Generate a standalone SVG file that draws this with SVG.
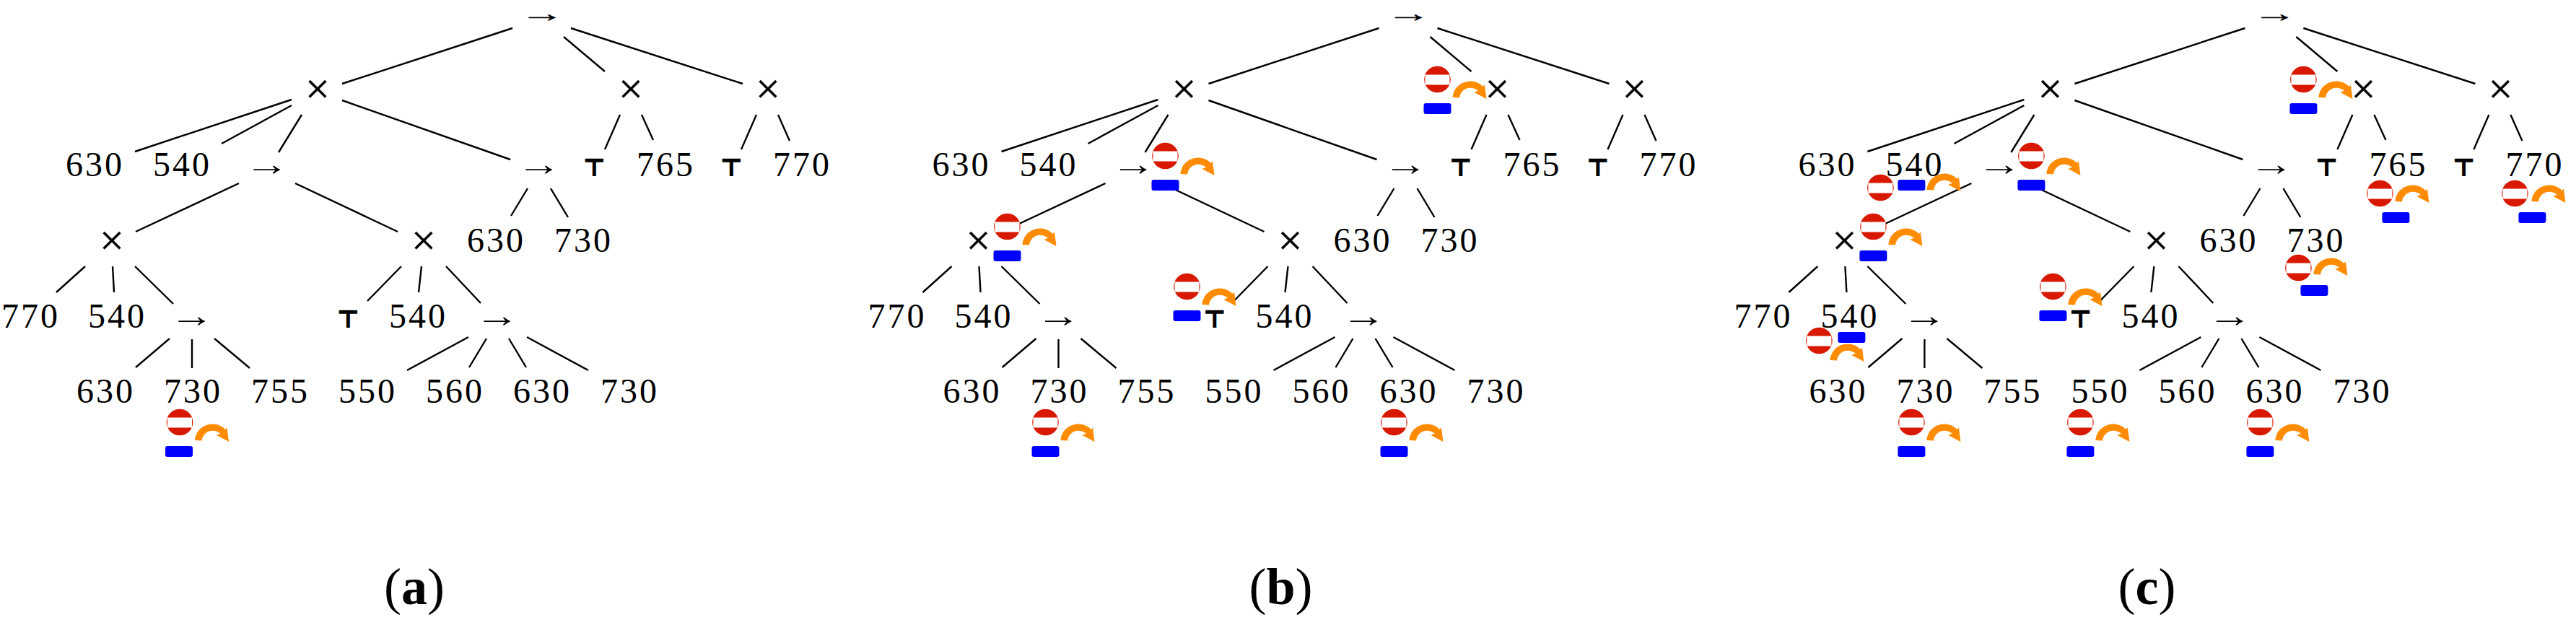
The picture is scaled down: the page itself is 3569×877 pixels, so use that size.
<svg xmlns="http://www.w3.org/2000/svg" width="3569" height="877" viewBox="0 0 3569 877">
<style>
text{fill:#000;text-anchor:middle;font-family:"Liberation Serif",serif}
.n{font-size:48px;letter-spacing:3px;transform:translateX(1.5px)}
.x{font-size:60px;stroke:#000;stroke-width:0.6}
.a{font-size:46px}
.r{font-size:34px;stroke:#000;stroke-width:0.3}
.t{font-size:32px;font-weight:bold;font-family:"DejaVu Sans",sans-serif;stroke:#000;stroke-width:1.5}
.c{font-size:72px}
.c tspan{font-weight:bold}
line{stroke:#000;stroke-width:2.4}
</style>
<defs>
<g id="no"><circle r="18.3" fill="#d81900"/><rect x="-17" y="-6.5" width="34" height="14" fill="#fff"/></g>
<path id="turn" fill="#ff8c00" d="M21 25C22 12 32 3 45 2.500C52 2.500 59 5 63 10L65.500 7.500L68 27L51 18L56.500 15.500C53 13 49 11.500 45 11.700C37 12 31.500 18 30.500 25.500Z"/>
<rect id="bar" x="-19" y="33" width="38" height="15" rx="3" fill="#0000ff"/>
</defs>
<g id="panel-a">
<g id="a-connectors">
<line x1="710" y1="39" x2="474" y2="116"/><line x1="781" y1="51" x2="838" y2="99"/><line x1="791" y1="39" x2="1029" y2="116"/><line x1="404" y1="138" x2="187" y2="210"/><line x1="404" y1="146" x2="307" y2="199"/><line x1="418" y1="159" x2="386" y2="211"/><line x1="474" y1="139" x2="707" y2="221"/><line x1="331" y1="254" x2="188" y2="321"/><line x1="409" y1="254" x2="551" y2="321"/><line x1="731" y1="261" x2="708" y2="299"/><line x1="763" y1="261" x2="787" y2="301"/><line x1="859" y1="159" x2="838" y2="207"/><line x1="889" y1="159" x2="905" y2="194"/><line x1="1048" y1="159" x2="1027" y2="207"/><line x1="1078" y1="159" x2="1094" y2="195"/><line x1="118" y1="369" x2="78" y2="405"/><line x1="156" y1="369" x2="158" y2="405"/><line x1="187" y1="369" x2="240" y2="421"/><line x1="556" y1="369" x2="509" y2="417"/><line x1="584" y1="369" x2="580" y2="405"/><line x1="618" y1="369" x2="666" y2="420"/><line x1="235" y1="469" x2="188" y2="509"/><line x1="266" y1="470" x2="266" y2="510"/><line x1="297" y1="469" x2="346" y2="510"/><line x1="649" y1="467" x2="564" y2="513"/><line x1="674" y1="469" x2="650" y2="509"/><line x1="705" y1="469" x2="729" y2="509"/><line x1="730" y1="467" x2="815" y2="513"/>
</g>
<g id="a-n1"><text class="r" x="751" y="30" textLength="62" lengthAdjust="spacingAndGlyphs">→</text></g>
<g id="a-n2"><text class="x" x="440" y="143">×</text></g>
<g id="a-n3"><text class="x" x="874" y="143">×</text></g>
<g id="a-n4"><text class="x" x="1064" y="143">×</text></g>
<g id="a-n5"><text class="n" x="130" y="244">630</text></g>
<g id="a-n6"><text class="n" x="251" y="244">540</text></g>
<g id="a-n7"><text class="a" x="370" y="243" textLength="62" lengthAdjust="spacingAndGlyphs">→</text></g>
<g id="a-n8"><text class="a" x="747" y="243" textLength="62" lengthAdjust="spacingAndGlyphs">→</text></g>
<g id="a-n9"><text class="t" x="823" y="243">⊤</text></g>
<g id="a-n10"><text class="n" x="921" y="244">765</text></g>
<g id="a-n11"><text class="t" x="1013" y="243">⊤</text></g>
<g id="a-n12"><text class="n" x="1110" y="244">770</text></g>
<g id="a-n13"><text class="x" x="155" y="353">×</text></g>
<g id="a-n14"><text class="x" x="587" y="353">×</text></g>
<g id="a-n15"><text class="n" x="686" y="349">630</text></g>
<g id="a-n16"><text class="n" x="807" y="349">730</text></g>
<g id="a-n17"><text class="n" x="41" y="454">770</text></g>
<g id="a-n18"><text class="n" x="161" y="454">540</text></g>
<g id="a-n19"><text class="a" x="266" y="453" textLength="62" lengthAdjust="spacingAndGlyphs">→</text></g>
<g id="a-n20"><text class="t" x="482" y="453">⊤</text></g>
<g id="a-n21"><text class="n" x="578" y="454">540</text></g>
<g id="a-n22"><text class="a" x="689" y="453" textLength="62" lengthAdjust="spacingAndGlyphs">→</text></g>
<g id="a-n23"><text class="n" x="145" y="558">630</text></g>
<g id="a-n24"><text class="n" x="266" y="558">730</text></g>
<g id="a-n25"><text class="n" x="387" y="558">755</text></g>
<g id="a-n26"><text class="n" x="508" y="558">550</text></g>
<g id="a-n27"><text class="n" x="629" y="558">560</text></g>
<g id="a-n28"><text class="n" x="750" y="558">630</text></g>
<g id="a-n29"><text class="n" x="871" y="558">730</text></g>
<g id="a-i1"><use href="#no" x="249" y="585"/><use href="#turn" x="249" y="585"/><use href="#bar" x="248" y="585"/></g>
<text class="c" x="574" y="837">(<tspan>a</tspan>)</text>
</g>
<g id="panel-b" transform="translate(1200.5 0)">
<g id="b-connectors">
<line x1="710" y1="39" x2="474" y2="116"/><line x1="781" y1="51" x2="838" y2="99"/><line x1="791" y1="39" x2="1029" y2="116"/><line x1="404" y1="138" x2="187" y2="210"/><line x1="404" y1="146" x2="307" y2="199"/><line x1="418" y1="159" x2="386" y2="211"/><line x1="474" y1="139" x2="707" y2="221"/><line x1="331" y1="254" x2="188" y2="321"/><line x1="409" y1="254" x2="551" y2="321"/><line x1="731" y1="261" x2="708" y2="299"/><line x1="763" y1="261" x2="787" y2="301"/><line x1="859" y1="159" x2="838" y2="207"/><line x1="889" y1="159" x2="905" y2="194"/><line x1="1048" y1="159" x2="1027" y2="207"/><line x1="1078" y1="159" x2="1094" y2="195"/><line x1="118" y1="369" x2="78" y2="405"/><line x1="156" y1="369" x2="158" y2="405"/><line x1="187" y1="369" x2="240" y2="421"/><line x1="556" y1="369" x2="509" y2="417"/><line x1="584" y1="369" x2="580" y2="405"/><line x1="618" y1="369" x2="666" y2="420"/><line x1="235" y1="469" x2="188" y2="509"/><line x1="266" y1="470" x2="266" y2="510"/><line x1="297" y1="469" x2="346" y2="510"/><line x1="649" y1="467" x2="564" y2="513"/><line x1="674" y1="469" x2="650" y2="509"/><line x1="705" y1="469" x2="729" y2="509"/><line x1="730" y1="467" x2="815" y2="513"/>
</g>
<g id="b-n1"><text class="r" x="751" y="30" textLength="62" lengthAdjust="spacingAndGlyphs">→</text></g>
<g id="b-n2"><text class="x" x="440" y="143">×</text></g>
<g id="b-n3"><text class="x" x="874" y="143">×</text></g>
<g id="b-n4"><text class="x" x="1064" y="143">×</text></g>
<g id="b-n5"><text class="n" x="130" y="244">630</text></g>
<g id="b-n6"><text class="n" x="251" y="244">540</text></g>
<g id="b-n7"><text class="a" x="370" y="243" textLength="62" lengthAdjust="spacingAndGlyphs">→</text></g>
<g id="b-n8"><text class="a" x="747" y="243" textLength="62" lengthAdjust="spacingAndGlyphs">→</text></g>
<g id="b-n9"><text class="t" x="823" y="243">⊤</text></g>
<g id="b-n10"><text class="n" x="921" y="244">765</text></g>
<g id="b-n11"><text class="t" x="1013" y="243">⊤</text></g>
<g id="b-n12"><text class="n" x="1110" y="244">770</text></g>
<g id="b-n13"><text class="x" x="155" y="353">×</text></g>
<g id="b-n14"><text class="x" x="587" y="353">×</text></g>
<g id="b-n15"><text class="n" x="686" y="349">630</text></g>
<g id="b-n16"><text class="n" x="807" y="349">730</text></g>
<g id="b-n17"><text class="n" x="41" y="454">770</text></g>
<g id="b-n18"><text class="n" x="161" y="454">540</text></g>
<g id="b-n19"><text class="a" x="266" y="453" textLength="62" lengthAdjust="spacingAndGlyphs">→</text></g>
<g id="b-n20"><text class="t" x="482" y="453">⊤</text></g>
<g id="b-n21"><text class="n" x="578" y="454">540</text></g>
<g id="b-n22"><text class="a" x="689" y="453" textLength="62" lengthAdjust="spacingAndGlyphs">→</text></g>
<g id="b-n23"><text class="n" x="145" y="558">630</text></g>
<g id="b-n24"><text class="n" x="266" y="558">730</text></g>
<g id="b-n25"><text class="n" x="387" y="558">755</text></g>
<g id="b-n26"><text class="n" x="508" y="558">550</text></g>
<g id="b-n27"><text class="n" x="629" y="558">560</text></g>
<g id="b-n28"><text class="n" x="750" y="558">630</text></g>
<g id="b-n29"><text class="n" x="871" y="558">730</text></g>
<g id="b-i1"><use href="#no" x="791" y="110"/><use href="#turn" x="791" y="110"/><use href="#bar" x="791" y="110"/></g>
<g id="b-i2"><use href="#no" x="414" y="216"/><use href="#turn" x="414" y="216"/><use href="#bar" x="414" y="216"/></g>
<g id="b-i3"><use href="#no" x="195" y="314"/><use href="#turn" x="195" y="314"/><use href="#bar" x="195" y="314"/></g>
<g id="b-i4"><use href="#no" x="444" y="397"/><use href="#turn" x="444" y="397"/><use href="#bar" x="444" y="397"/></g>
<g id="b-i5"><use href="#no" x="248" y="585"/><use href="#turn" x="248" y="585"/><use href="#bar" x="248" y="585"/></g>
<g id="b-i6"><use href="#no" x="731" y="585"/><use href="#turn" x="731" y="585"/><use href="#bar" x="731" y="585"/></g>
<text class="c" x="574" y="837">(<tspan>b</tspan>)</text>
</g>
<g id="panel-c" transform="translate(2400.4 0)">
<g id="c-connectors">
<line x1="710" y1="39" x2="474" y2="116"/><line x1="781" y1="51" x2="838" y2="99"/><line x1="791" y1="39" x2="1029" y2="116"/><line x1="404" y1="138" x2="187" y2="210"/><line x1="404" y1="146" x2="307" y2="199"/><line x1="418" y1="159" x2="386" y2="211"/><line x1="474" y1="139" x2="707" y2="221"/><line x1="331" y1="254" x2="188" y2="321"/><line x1="409" y1="254" x2="551" y2="321"/><line x1="731" y1="261" x2="708" y2="299"/><line x1="763" y1="261" x2="787" y2="301"/><line x1="859" y1="159" x2="838" y2="207"/><line x1="889" y1="159" x2="905" y2="194"/><line x1="1048" y1="159" x2="1027" y2="207"/><line x1="1078" y1="159" x2="1094" y2="195"/><line x1="118" y1="369" x2="78" y2="405"/><line x1="156" y1="369" x2="158" y2="405"/><line x1="187" y1="369" x2="240" y2="421"/><line x1="556" y1="369" x2="509" y2="417"/><line x1="584" y1="369" x2="580" y2="405"/><line x1="618" y1="369" x2="666" y2="420"/><line x1="235" y1="469" x2="188" y2="509"/><line x1="266" y1="470" x2="266" y2="510"/><line x1="297" y1="469" x2="346" y2="510"/><line x1="649" y1="467" x2="564" y2="513"/><line x1="674" y1="469" x2="650" y2="509"/><line x1="705" y1="469" x2="729" y2="509"/><line x1="730" y1="467" x2="815" y2="513"/>
</g>
<g id="c-n1"><text class="r" x="751" y="30" textLength="62" lengthAdjust="spacingAndGlyphs">→</text></g>
<g id="c-n2"><text class="x" x="440" y="143">×</text></g>
<g id="c-n3"><text class="x" x="874" y="143">×</text></g>
<g id="c-n4"><text class="x" x="1064" y="143">×</text></g>
<g id="c-n5"><text class="n" x="130" y="244">630</text></g>
<g id="c-n6"><text class="n" x="251" y="244">540</text></g>
<g id="c-n7"><text class="a" x="370" y="243" textLength="62" lengthAdjust="spacingAndGlyphs">→</text></g>
<g id="c-n8"><text class="a" x="747" y="243" textLength="62" lengthAdjust="spacingAndGlyphs">→</text></g>
<g id="c-n9"><text class="t" x="823" y="243">⊤</text></g>
<g id="c-n10"><text class="n" x="921" y="244">765</text></g>
<g id="c-n11"><text class="t" x="1013" y="243">⊤</text></g>
<g id="c-n12"><text class="n" x="1110" y="244">770</text></g>
<g id="c-n13"><text class="x" x="155" y="353">×</text></g>
<g id="c-n14"><text class="x" x="587" y="353">×</text></g>
<g id="c-n15"><text class="n" x="686" y="349">630</text></g>
<g id="c-n16"><text class="n" x="807" y="349">730</text></g>
<g id="c-n17"><text class="n" x="41" y="454">770</text></g>
<g id="c-n18"><text class="n" x="161" y="454">540</text></g>
<g id="c-n19"><text class="a" x="266" y="453" textLength="62" lengthAdjust="spacingAndGlyphs">→</text></g>
<g id="c-n20"><text class="t" x="482" y="453">⊤</text></g>
<g id="c-n21"><text class="n" x="578" y="454">540</text></g>
<g id="c-n22"><text class="a" x="689" y="453" textLength="62" lengthAdjust="spacingAndGlyphs">→</text></g>
<g id="c-n23"><text class="n" x="145" y="558">630</text></g>
<g id="c-n24"><text class="n" x="266" y="558">730</text></g>
<g id="c-n25"><text class="n" x="387" y="558">755</text></g>
<g id="c-n26"><text class="n" x="508" y="558">550</text></g>
<g id="c-n27"><text class="n" x="629" y="558">560</text></g>
<g id="c-n28"><text class="n" x="750" y="558">630</text></g>
<g id="c-n29"><text class="n" x="871" y="558">730</text></g>
<g id="c-i1"><use href="#no" x="791" y="110"/><use href="#turn" x="791" y="110"/><use href="#bar" x="791" y="110"/></g>
<g id="c-i2"><use href="#no" x="414" y="216"/><use href="#turn" x="414" y="216"/><use href="#bar" x="414" y="216"/></g>
<g id="c-i3"><use href="#no" x="195" y="314"/><use href="#turn" x="195" y="314"/><use href="#bar" x="195" y="314"/></g>
<g id="c-i4"><use href="#no" x="444" y="397"/><use href="#turn" x="444" y="397"/><use href="#bar" x="444" y="397"/></g>
<g id="c-i5"><use href="#no" x="205" y="260"/><use href="#turn" x="248" y="238"/><use href="#bar" x="248" y="216"/></g>
<g id="c-i6"><use href="#no" x="897" y="268"/><use href="#turn" x="897" y="254"/><use href="#bar" x="919" y="261"/></g>
<g id="c-i7"><use href="#no" x="1084" y="268"/><use href="#turn" x="1086" y="254"/><use href="#bar" x="1108" y="261"/></g>
<g id="c-i8"><use href="#no" x="784" y="371"/><use href="#turn" x="784" y="355"/><use href="#bar" x="806" y="362"/></g>
<g id="c-i9"><use href="#no" x="120" y="472"/><use href="#turn" x="114" y="474"/><use href="#bar" x="165" y="427"/></g>
<g id="c-i10"><use href="#no" x="248" y="585"/><use href="#turn" x="248" y="585"/><use href="#bar" x="248" y="585"/></g>
<g id="c-i11"><use href="#no" x="482" y="585"/><use href="#turn" x="482" y="585"/><use href="#bar" x="482" y="585"/></g>
<g id="c-i12"><use href="#no" x="731" y="585"/><use href="#turn" x="731" y="585"/><use href="#bar" x="731" y="585"/></g>
<text class="c" x="574" y="837">(<tspan>c</tspan>)</text>
</g>
</svg>
